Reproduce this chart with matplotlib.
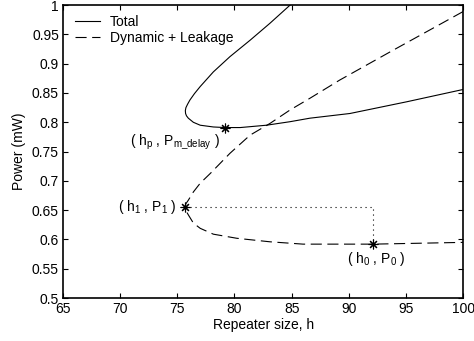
import matplotlib
matplotlib.use('Agg')
import matplotlib.pyplot as plt

plt.rcParams['font.family'] = ['Liberation Sans', 'DejaVu Sans']
plt.rcParams['mathtext.default'] = 'regular'

# Total power (solid)
total_h = [84.86, 83.1, 81.36, 79.6, 78.15, 77.0, 76.5, 76.1, 75.9, 75.75, 75.7, 75.72,
           75.8, 75.96, 76.4, 77.0, 78.15, 79.17, 80.5, 82.8, 84.86, 86.6, 90.1, 95.07, 100.0]
total_p = [1.0, 0.969, 0.940, 0.912, 0.886, 0.861, 0.849, 0.838, 0.831, 0.825, 0.820, 0.815,
           0.811, 0.807, 0.800, 0.795, 0.792, 0.791, 0.791, 0.795, 0.801, 0.807, 0.815, 0.835, 0.856]

# Dynamic + leakage power (dashed)
dyn_h = [100.0, 93.6, 89.2, 86.6, 84.86, 83.1, 81.36, 79.6, 77.9, 77.0, 76.4, 75.96, 75.75,
         75.67, 75.75, 75.96, 76.4, 77.0, 78.15, 80.2, 83.1, 86.0, 92.15, 100.0]
dyn_p = [0.989, 0.920, 0.872, 0.841, 0.821, 0.798, 0.778, 0.747, 0.713, 0.696, 0.681, 0.667,
         0.661, 0.656, 0.649, 0.642, 0.628, 0.619, 0.609, 0.602, 0.596, 0.592, 0.592, 0.595]

# marked points: (hp, Pm_delay), (h1, P1), (h0, P0)
mark_h = [79.17, 75.67, 92.15]
mark_p = [0.791, 0.656, 0.592]

fig = plt.figure(figsize=(4.74, 3.41), dpi=100)
ax = fig.add_axes([0.133, 0.126, 0.844, 0.859])

ax.plot(total_h, total_p, color='black', lw=0.8, label='Total')
dl, = ax.plot(dyn_h, dyn_p, color='black', lw=0.8, label='Dynamic + Leakage')
dl.set_dashes((10, 5))

# dotted guide from (h1, P1) to (h0, P0)
ax.plot([mark_h[1], mark_h[2], mark_h[2]], [mark_p[1], mark_p[1], mark_p[2]],
        color='black', lw=0.8, linestyle=(0, (1, 3.5)))

ax.plot(mark_h, mark_p, linestyle='none', marker=(8, 2, 0), markersize=7,
        markeredgewidth=0.8, color='black')

ax.text(74.8, 0.766, r'( $h_p$ , $P_{m\_delay}$ )', fontsize=10, ha='center', va='center')
ax.text(74.9, 0.656, r'( $h_1$ , $P_1$ )', fontsize=10, ha='right', va='center')
ax.text(92.4, 0.567, r'( $h_0$ , $P_0$ )', fontsize=10, ha='center', va='center')

ax.set_xlim(65, 100)
ax.set_ylim(0.5, 1)
ax.set_xticks([65, 70, 75, 80, 85, 90, 95, 100])
ax.set_yticks([0.5, 0.55, 0.6, 0.65, 0.7, 0.75, 0.8, 0.85, 0.9, 0.95, 1])
ax.set_yticklabels(['0.5', '0.55', '0.6', '0.65', '0.7', '0.75', '0.8', '0.85',
                    '0.9', '0.95', '1'])
ax.tick_params(direction='in', top=True, right=True, length=3.5, width=0.8,
               labelsize=10, pad=3)
for s in ax.spines.values():
    s.set_linewidth(1.2)

ax.set_xlabel('Repeater size, h', fontsize=10, labelpad=1)
ax.set_ylabel('Power (mW)', fontsize=10, labelpad=4)

ax.legend(loc='upper left', bbox_to_anchor=(0.03, 0.967), frameon=False, fontsize=10,
          handlelength=1.8, handletextpad=0.7, labelspacing=0.15,
          borderaxespad=0, borderpad=0)

fig.savefig('out.png', dpi=100)
